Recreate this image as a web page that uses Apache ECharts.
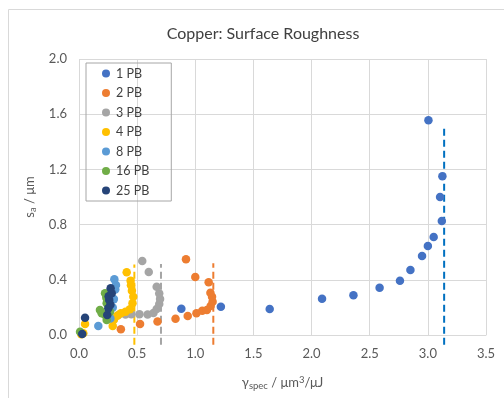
<!DOCTYPE html>
<html><head><meta charset="utf-8">
<script src="https://cdn.jsdelivr.net/npm/echarts@6/dist/echarts.min.js"></script>
<style>html,body{margin:0;padding:0;background:#fff}#c{width:504px;height:398px}</style>
</head><body><div id="c"></div>
<script>
const seriesNames = ['1 PB','2 PB','3 PB','4 PB','8 PB','16 PB','25 PB'];
const seriesColors = ['#4472C4','#ED7D31','#A5A5A5','#FFC000','#5B9BD5','#70AD47','#264478'];
const pb1 = [[0.88,0.19],[1.22,0.205],[1.64,0.188],[2.09,0.263],[2.36,0.288],[2.585,0.343],[2.76,0.393],[2.85,0.471],[2.95,0.572],[3.0,0.645],[3.05,0.71],[3.12,0.826],[3.105,1.0],[3.125,1.15],[3.005,1.556]];
const pb2 = [[0.36,0.041],[0.525,0.08],[0.675,0.097],[0.83,0.118],[0.935,0.138],[1.01,0.157],[1.06,0.175],[1.1,0.181],[1.132,0.21],[1.149,0.241],[1.144,0.278],[1.13,0.307],[1.115,0.382],[1.0,0.42],[0.92,0.549]];
const pb3 = [[0.02,0.01],[0.3,0.12],[0.338,0.145],[0.4,0.148],[0.45,0.15],[0.52,0.15],[0.59,0.148],[0.64,0.16],[0.668,0.188],[0.69,0.225],[0.697,0.26],[0.69,0.3],[0.668,0.35],[0.6,0.457],[0.544,0.536]];
const pb4 = [[0.02,0.005],[0.037,0.012],[0.052,0.08],[0.29,0.065],[0.3,0.11],[0.33,0.14],[0.36,0.157],[0.4,0.168],[0.438,0.186],[0.46,0.23],[0.467,0.278],[0.455,0.32],[0.447,0.36],[0.444,0.394],[0.41,0.454]];
const pb8 = [[0.166,0.065],[0.27,0.12],[0.29,0.2],[0.3,0.26],[0.312,0.33],[0.318,0.362],[0.304,0.404]];
const pb16 = [[0.009,0.024],[0.18,0.181],[0.195,0.157],[0.224,0.145],[0.238,0.109],[0.267,0.169],[0.238,0.23],[0.224,0.302],[0.235,0.27]];
const pb25 = [[0.028,0.007],[0.052,0.125],[0.243,0.145],[0.252,0.193],[0.27,0.22],[0.26,0.254],[0.255,0.28],[0.281,0.302],[0.272,0.338]];
const seriesData = [pb1,pb2,pb3,pb4,pb8,pb16,pb25];
const limitX = [3.14, 1.155, 0.705, 0.476];
const limitTop = [1.52, 0.52, 0.515, 0.51];
const limitBottom = -0.07;
const limitColors = ['#0070C0','#ED7D31','#A5A5A5','#FFC000'];
const xTicks = {min:0, max:3.5, interval:0.5};
const yTicks = {min:0, max:2.0, interval:0.4};

const FONT = 'Lato, "Open Sans", sans-serif';
const chart = echarts.init(document.getElementById('c'));
const series = [];
seriesData.forEach((d,i)=>{
  series.push({name:seriesNames[i], type:'scatter', data:d, symbolSize:8.5,
    itemStyle:{color:seriesColors[i], opacity:1}, z:3});
});
limitX.forEach((x,i)=>{
  series.push({name:'limit'+i, type:'line', data:[[x,limitBottom],[x,limitTop[i]]],
    symbol:'none', clip:false, silent:true, z:2,
    lineStyle:{color:limitColors[i], width:2, type:[7,4]}});
});
chart.setOption({
  animation:false,
  textStyle:{fontFamily:FONT},
  graphic:[{type:'rect', shape:{x:8.5,y:9.5,width:600,height:500}, style:{fill:'none', stroke:'#D9D9D9', lineWidth:1}, z:-1}],
  title:{text:'Copper: Surface Roughness', left:258, top:21, textAlign:'center',
    textStyle:{fontFamily:FONT, fontSize:16, fontWeight:'normal', color:'#404040'}},
  grid:{left:79, right:18, top:59, bottom:63, containLabel:false},
  legend:{data:seriesNames, orient:'vertical', left:86, top:63,
    itemWidth:10, itemHeight:8, itemGap:6.5, icon:'circle',
    padding:[4,22,4,16], borderColor:'#A6A6A6', borderWidth:1,
    textStyle:{fontFamily:FONT, fontSize:12.5, color:'#404040'}},
  xAxis:{type:'value', min:xTicks.min, max:xTicks.max, interval:xTicks.interval,
    axisLine:{show:true, lineStyle:{color:'#D9D9D9'}}, axisTick:{show:false},
    splitLine:{show:true, lineStyle:{color:'#D9D9D9'}},
    axisLabel:{formatter:v=>v.toFixed(1), color:'#595959', fontSize:13, fontFamily:FONT, margin:12},
    name:'γ{sub|spec} / μm{sup|3}/μJ', nameLocation:'middle', nameGap:40,
    nameTextStyle:{fontFamily:FONT, fontSize:13, color:'#595959', lineHeight:16,
      rich:{sub:{fontSize:9.5, color:'#595959', fontFamily:FONT, verticalAlign:'bottom', lineHeight:11},
            sup:{fontSize:9.5, color:'#595959', fontFamily:FONT, verticalAlign:'top', lineHeight:11}}}},
  yAxis:{type:'value', min:yTicks.min, max:yTicks.max, interval:yTicks.interval,
    axisLine:{show:false}, axisTick:{show:false},
    splitLine:{show:true, lineStyle:{color:'#D9D9D9'}},
    axisLabel:{formatter:v=>v.toFixed(1), color:'#595959', fontSize:13, fontFamily:FONT, margin:12},
    name:'s{sub|a} / μm', nameLocation:'middle', nameGap:35,
    nameTextStyle:{fontFamily:FONT, fontSize:13, color:'#595959', lineHeight:16,
      rich:{sub:{fontSize:9.5, color:'#595959', fontFamily:FONT, verticalAlign:'bottom', lineHeight:11}}}},
  series:series
});
</script></body></html>
